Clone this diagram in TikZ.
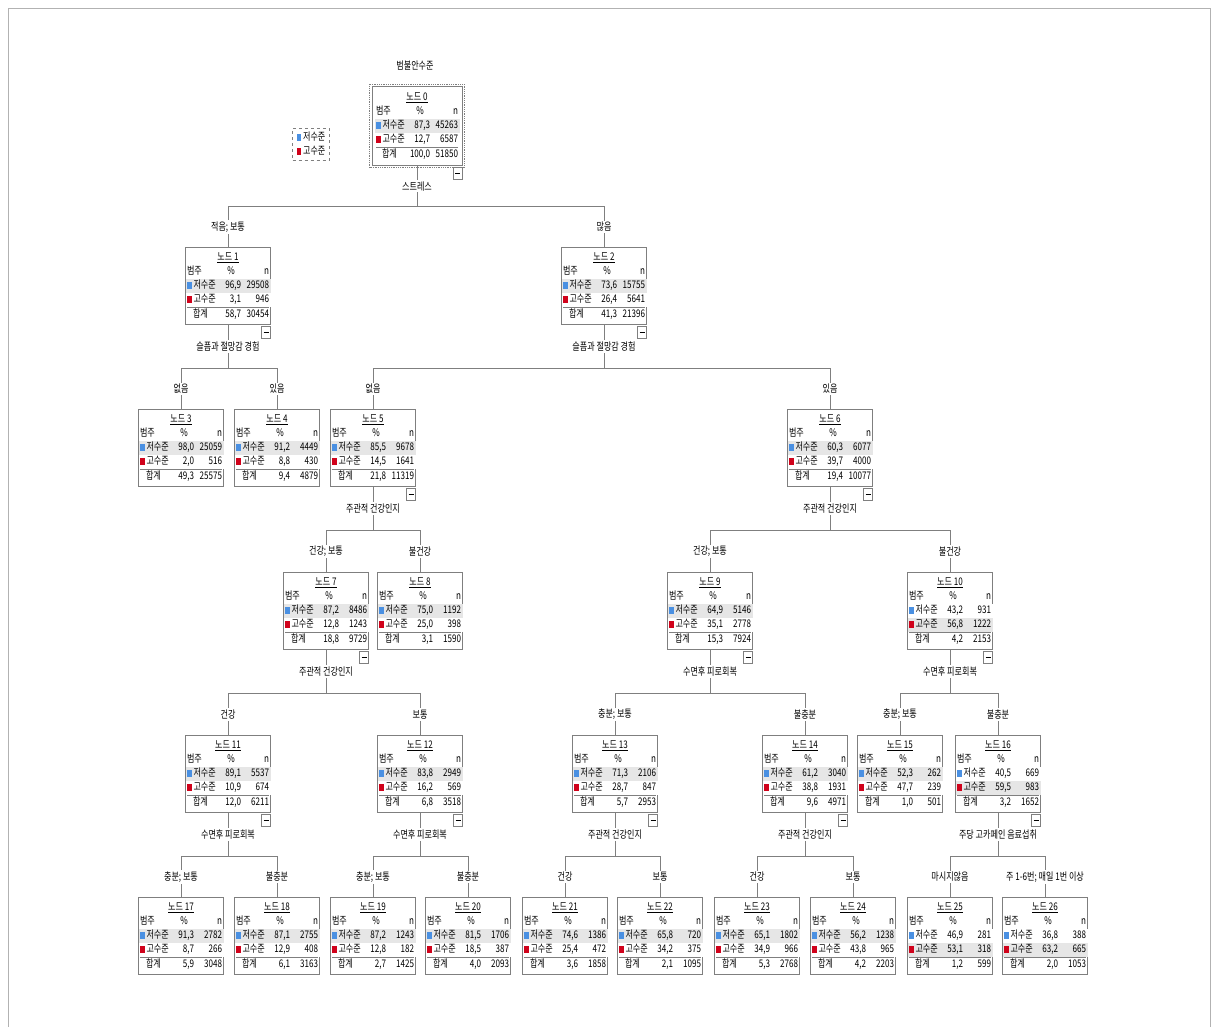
\documentclass[tikz,border=0pt]{standalone}
\usepackage{fontspec}
\setmainfont{Noto Sans CJK KR}[FakeStretch=0.77]
\usepackage{array,colortbl}

\definecolor{lowc}{HTML}{4A90E2}
\definecolor{highc}{HTML}{D0021B}
\definecolor{shade}{HTML}{E6E6E6}
\definecolor{boxc}{HTML}{7F7F7F}

\setlength{\tabcolsep}{1.5pt}
\arrayrulecolor{boxc}
\newcommand{\sqlow}{\leavevmode{\color{lowc}\rule{4.5pt}{7pt}}\hspace{2pt}}
\newcommand{\sqhigh}{\leavevmode{\color{highc}\rule{4.5pt}{7pt}}\hspace{2pt}}
% node table: number, %low, nlow, %high, nhigh, %total, ntotal, row colours
\newcommand{\ntab}[9]{%
\begin{tabular}{@{}>{\raggedright\arraybackslash}p{31pt}>{\raggedleft\arraybackslash}p{20pt}>{\raggedleft\arraybackslash}p{25pt}@{}}
\multicolumn{3}{c}{\underline{노드 #1}}\\
범주 & \multicolumn{1}{c}{\%} & n\\ \hline
\rowcolor{#8}\sqlow 저수준 & #2 & #3\\
\rowcolor{#9}\sqhigh 고수준 & #4 & #5\\ \hline
\hspace{6pt}합계 & #6 & #7
\end{tabular}}

\tikzset{
  tnode/.style={draw=boxc, fill=white, inner sep=1.5pt, minimum width=85, minimum height=77},
  lab/.style={fill=white, inner sep=1.5pt},
  conn/.style={draw=boxc, line width=0.6pt},
  mbox/.style={draw=boxc, fill=white, minimum width=9, minimum height=12, inner sep=0pt, anchor=north east, yshift=-1pt}
}

\begin{document}
\begin{tikzpicture}[x=1pt, y=-1pt, font=\fontsize{10.5}{14}\selectfont]
\useasboundingbox (0,0) rectangle (1217,1026);
\draw[gray!60] (8,8) rectangle (1210,1040);

\node (title) at (415,66) {범불안수준};
\node[draw=boxc, dashed, inner sep=4pt, align=left] (legend) at (311,144) {\sqlow 저수준\\ \sqhigh 고수준};

% tree nodes
\node[tnode, minimum width=90, minimum height=79] (n0) at (417,126) {\ntab{0}{87,3}{45263}{12,7}{6587}{100,0}{51850}{shade}{white}};
\draw[boxc, densely dotted, line width=0.8pt] ([shift={(-2,-2)}]n0.north west) rectangle ([shift={(2,2)}]n0.south east);

\node[tnode] (n1) at (228,286) {\ntab{1}{96,9}{29508}{3,1}{946}{58,7}{30454}{shade}{white}};
\node[tnode] (n2) at (604,286) {\ntab{2}{73,6}{15755}{26,4}{5641}{41,3}{21396}{shade}{white}};

\node[tnode] (n3) at (181,448) {\ntab{3}{98,0}{25059}{2,0}{516}{49,3}{25575}{shade}{white}};
\node[tnode] (n4) at (277,448) {\ntab{4}{91,2}{4449}{8,8}{430}{9,4}{4879}{shade}{white}};
\node[tnode] (n5) at (373,448) {\ntab{5}{85,5}{9678}{14,5}{1641}{21,8}{11319}{shade}{white}};
\node[tnode] (n6) at (830,448) {\ntab{6}{60,3}{6077}{39,7}{4000}{19,4}{10077}{shade}{white}};

\node[tnode] (n7) at (326,611) {\ntab{7}{87,2}{8486}{12,8}{1243}{18,8}{9729}{shade}{white}};
\node[tnode] (n8) at (420,611) {\ntab{8}{75,0}{1192}{25,0}{398}{3,1}{1590}{shade}{white}};
\node[tnode] (n9) at (710,611) {\ntab{9}{64,9}{5146}{35,1}{2778}{15,3}{7924}{shade}{white}};
\node[tnode] (n10) at (950,611) {\ntab{10}{43,2}{931}{56,8}{1222}{4,2}{2153}{white}{shade}};

\node[tnode] (n11) at (228,774) {\ntab{11}{89,1}{5537}{10,9}{674}{12,0}{6211}{shade}{white}};
\node[tnode] (n12) at (420,774) {\ntab{12}{83,8}{2949}{16,2}{569}{6,8}{3518}{shade}{white}};
\node[tnode] (n13) at (615,774) {\ntab{13}{71,3}{2106}{28,7}{847}{5,7}{2953}{shade}{white}};
\node[tnode] (n14) at (805,774) {\ntab{14}{61,2}{3040}{38,8}{1931}{9,6}{4971}{shade}{white}};
\node[tnode] (n15) at (900,774) {\ntab{15}{52,3}{262}{47,7}{239}{1,0}{501}{shade}{white}};
\node[tnode] (n16) at (998,774) {\ntab{16}{40,5}{669}{59,5}{983}{3,2}{1652}{white}{shade}};

\node[tnode] (n17) at (181,936) {\ntab{17}{91,3}{2782}{8,7}{266}{5,9}{3048}{shade}{white}};
\node[tnode] (n18) at (277,936) {\ntab{18}{87,1}{2755}{12,9}{408}{6,1}{3163}{shade}{white}};
\node[tnode] (n19) at (373,936) {\ntab{19}{87,2}{1243}{12,8}{182}{2,7}{1425}{shade}{white}};
\node[tnode] (n20) at (468,936) {\ntab{20}{81,5}{1706}{18,5}{387}{4,0}{2093}{shade}{white}};
\node[tnode] (n21) at (565,936) {\ntab{21}{74,6}{1386}{25,4}{472}{3,6}{1858}{shade}{white}};
\node[tnode] (n22) at (660,936) {\ntab{22}{65,8}{720}{34,2}{375}{2,1}{1095}{shade}{white}};
\node[tnode] (n23) at (757,936) {\ntab{23}{65,1}{1802}{34,9}{966}{5,3}{2768}{shade}{white}};
\node[tnode] (n24) at (853,936) {\ntab{24}{56,2}{1238}{43,8}{965}{4,2}{2203}{shade}{white}};
\node[tnode] (n25) at (950,936) {\ntab{25}{46,9}{281}{53,1}{318}{1,2}{599}{white}{shade}};
\node[tnode] (n26) at (1045,936) {\ntab{26}{36,8}{388}{63,2}{665}{2,0}{1053}{white}{shade}};

% connectors
\draw[conn] (n0.south) -- node[lab] (s0) {스트레스} ++(0,41) coordinate (b0);
\draw[conn] (b0) -| node[lab, pos=0.75] (c1) {적음; 보통} (n1.north);
\draw[conn] (b0) -| node[lab, pos=0.75] (c2) {많음} (n2.north);

\draw[conn] (n1.south) -- node[lab] (s1) {슬픔과 절망감 경험} ++(0,44) coordinate (b1);
\draw[conn] (b1) -| node[lab, pos=0.75] (c3) {없음} (n3.north);
\draw[conn] (b1) -| node[lab, pos=0.75] (c4) {있음} (n4.north);

\draw[conn] (n2.south) -- node[lab] (s2) {슬픔과 절망감 경험} ++(0,44) coordinate (b2);
\draw[conn] (b2) -| node[lab, pos=0.75] (c5) {없음} (n5.north);
\draw[conn] (b2) -| node[lab, pos=0.75] (c6) {있음} (n6.north);

\draw[conn] (n5.south) -- node[lab] (s5) {주관적 건강인지} ++(0,44) coordinate (b5);
\draw[conn] (b5) -| node[lab, pos=0.75] (c7) {건강; 보통} (n7.north);
\draw[conn] (b5) -| node[lab, pos=0.75] (c8) {불건강} (n8.north);

\draw[conn] (n6.south) -- node[lab] (s6) {주관적 건강인지} ++(0,44) coordinate (b6);
\draw[conn] (b6) -| node[lab, pos=0.75] (c9) {건강; 보통} (n9.north);
\draw[conn] (b6) -| node[lab, pos=0.75] (c10) {불건강} (n10.north);

\draw[conn] (n7.south) -- node[lab] (s7) {주관적 건강인지} ++(0,44) coordinate (b7);
\draw[conn] (b7) -| node[lab, pos=0.75] (c11) {건강} (n11.north);
\draw[conn] (b7) -| node[lab, pos=0.75] (c12) {보통} (n12.north);

\draw[conn] (n9.south) -- node[lab] (s9) {수면후 피로회복} ++(0,44) coordinate (b9);
\draw[conn] (b9) -| node[lab, pos=0.75] (c13) {충분; 보통} (n13.north);
\draw[conn] (b9) -| node[lab, pos=0.75] (c14) {불충분} (n14.north);

\draw[conn] (n10.south) -- node[lab] (s10) {수면후 피로회복} ++(0,44) coordinate (b10);
\draw[conn] (b10) -| node[lab, pos=0.75] (c15) {충분; 보통} (n15.north);
\draw[conn] (b10) -| node[lab, pos=0.75] (c16) {불충분} (n16.north);

\draw[conn] (n11.south) -- node[lab] (s11) {수면후 피로회복} ++(0,44) coordinate (b11);
\draw[conn] (b11) -| node[lab, pos=0.75] (c17) {충분; 보통} (n17.north);
\draw[conn] (b11) -| node[lab, pos=0.75] (c18) {불충분} (n18.north);

\draw[conn] (n12.south) -- node[lab] (s12) {수면후 피로회복} ++(0,44) coordinate (b12);
\draw[conn] (b12) -| node[lab, pos=0.75] (c19) {충분; 보통} (n19.north);
\draw[conn] (b12) -| node[lab, pos=0.75] (c20) {불충분} (n20.north);

\draw[conn] (n13.south) -- node[lab] (s13) {주관적 건강인지} ++(0,44) coordinate (b13);
\draw[conn] (b13) -| node[lab, pos=0.75] (c21) {건강} (n21.north);
\draw[conn] (b13) -| node[lab, pos=0.75] (c22) {보통} (n22.north);

\draw[conn] (n14.south) -- node[lab] (s14) {주관적 건강인지} ++(0,44) coordinate (b14);
\draw[conn] (b14) -| node[lab, pos=0.75] (c23) {건강} (n23.north);
\draw[conn] (b14) -| node[lab, pos=0.75] (c24) {보통} (n24.north);

\draw[conn] (n16.south) -- node[lab] (s16) {주당 고카페인 음료섭취} ++(0,44) coordinate (b16);
\draw[conn] (b16) -| node[lab, pos=0.75] (c25) {마시지않음} (n25.north);
\draw[conn] (b16) -| node[lab, pos=0.75] (c26) {주 1-6번; 매일 1번 이상} (n26.north);

% collapse boxes
\node[mbox] (m0) at (n0.south east) {\rule{5pt}{0.6pt}};
\node[mbox] (m1) at (n1.south east) {\rule{5pt}{0.6pt}};
\node[mbox] (m2) at (n2.south east) {\rule{5pt}{0.6pt}};
\node[mbox] (m5) at (n5.south east) {\rule{5pt}{0.6pt}};
\node[mbox] (m6) at (n6.south east) {\rule{5pt}{0.6pt}};
\node[mbox] (m7) at (n7.south east) {\rule{5pt}{0.6pt}};
\node[mbox] (m9) at (n9.south east) {\rule{5pt}{0.6pt}};
\node[mbox] (m10) at (n10.south east) {\rule{5pt}{0.6pt}};
\node[mbox] (m11) at (n11.south east) {\rule{5pt}{0.6pt}};
\node[mbox] (m12) at (n12.south east) {\rule{5pt}{0.6pt}};
\node[mbox] (m13) at (n13.south east) {\rule{5pt}{0.6pt}};
\node[mbox] (m14) at (n14.south east) {\rule{5pt}{0.6pt}};
\node[mbox] (m16) at (n16.south east) {\rule{5pt}{0.6pt}};
\end{tikzpicture}
\end{document}
